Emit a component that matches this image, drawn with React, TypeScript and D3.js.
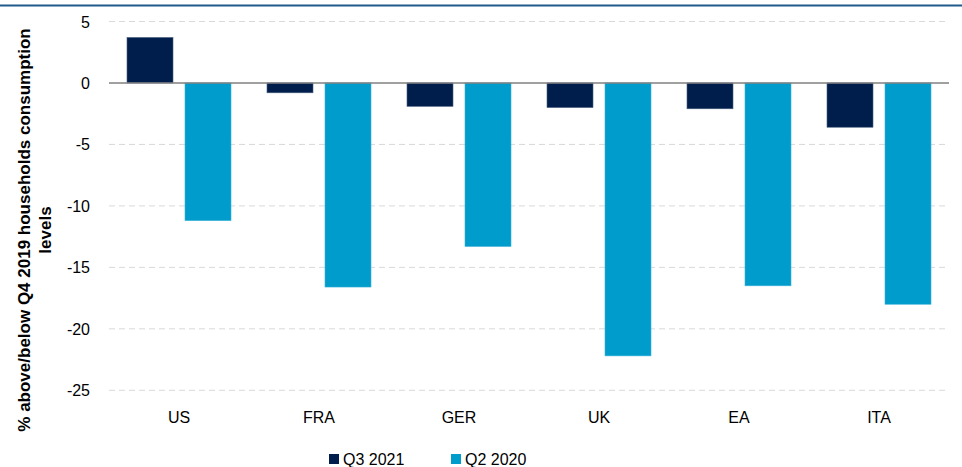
import React, { useEffect, useRef } from 'react';
import * as d3 from 'd3';

const countries = ['US', 'FRA', 'GER', 'UK', 'EA', 'ITA'];
const q3_2021 = [3.7, -0.8, -1.9, -2.0, -2.1, -3.6];
const q2_2020 = [-11.2, -16.6, -13.3, -22.2, -16.5, -18.0];
const seriesNames = ['Q3 2021', 'Q2 2020'];
const seriesColors = ['#001e4b', '#009ccc'];
const yTicks = [5, 0, -5, -10, -15, -20, -25];

export default function App() {
  const ref = useRef<SVGSVGElement>(null);

  useEffect(() => {
    const svg = d3.select(ref.current);
    svg.selectAll('*').remove();

    const left = 109, right = 949, top = 21.5, bottom = 390.3;
    const font = 'Liberation Sans, Arial, sans-serif';

    const x = d3.scaleBand().domain(countries).range([left, right]);
    const y = d3.scaleLinear().domain([-25, 5]).range([bottom, top]);

    // top border
    svg.append('line').attr('x1', 0).attr('x2', 962).attr('y1', 5.5).attr('y2', 5.5)
      .attr('stroke', '#1f5a8a').attr('stroke-width', 2);

    // grid
    svg.selectAll('.grid').data(yTicks.filter(d => d !== 0)).join('line')
      .attr('x1', left).attr('x2', right)
      .attr('y1', d => y(d)).attr('y2', d => y(d))
      .attr('stroke', '#d9d9d9').attr('stroke-width', 1).attr('stroke-dasharray', '6,4');

    // y tick labels
    svg.selectAll('.ytick').data(yTicks).join('text')
      .attr('x', 90).attr('y', d => y(d) + 6)
      .attr('text-anchor', 'end')
      .attr('font-family', font).attr('font-size', 16)
      .attr('fill', '#000')
      .text(d => d);

    const barW = 46, pad = 18, gap = 12;
    const series = [q3_2021, q2_2020];
    series.forEach((vals, si) => {
      svg.append('g').selectAll('rect').data(vals).join('rect')
        .attr('x', (d, i) => (x(countries[i]) as number) + pad + si * (barW + gap))
        .attr('y', d => y(Math.max(0, d)))
        .attr('width', barW)
        .attr('height', d => Math.abs(y(d) - y(0)))
        .attr('fill', seriesColors[si])
        .attr('stroke', si === 0 ? '#4a5f80' : '#3fb3d9')
        .attr('stroke-width', 0.6);
    });

    // zero line
    svg.append('line').attr('x1', left).attr('x2', right).attr('y1', y(0)).attr('y2', y(0))
      .attr('stroke', '#808080').attr('stroke-width', 1.5);

    // x labels
    svg.selectAll('.xlab').data(countries).join('text')
      .attr('x', d => (x(d) as number) + x.bandwidth() / 2)
      .attr('y', 423)
      .attr('text-anchor', 'middle')
      .attr('font-family', font).attr('font-size', 16)
      .attr('fill', '#000')
      .text(d => d);

    // y title
    const yt = svg.append('text')
      .attr('transform', 'translate(0,230) rotate(-90)')
      .attr('text-anchor', 'middle')
      .attr('font-family', font).attr('font-size', 17)
      .attr('font-weight', 'bold').attr('fill', '#000');
    yt.append('tspan').attr('x', 0).attr('y', 30).text('% above/below Q4 2019 households consumption');
    yt.append('tspan').attr('x', 0).attr('y', 51).text('levels');

    // legend
    const legX = [329, 451];
    seriesNames.forEach((name, i) => {
      svg.append('rect').attr('x', legX[i]).attr('y', 454).attr('width', 10).attr('height', 10)
        .attr('fill', seriesColors[i]);
      svg.append('text').attr('x', legX[i] + 14).attr('y', 465)
        .attr('font-family', font).attr('font-size', 16)
        .attr('fill', '#000').text(name);
    });
  }, []);

  return (
    <svg ref={ref} width={962} height={467}
      style={{ position: 'absolute', left: 0, top: 0, background: '#fff' }} />
  );
}
